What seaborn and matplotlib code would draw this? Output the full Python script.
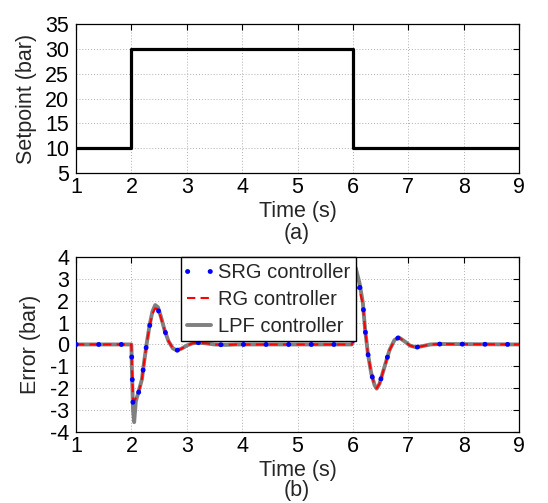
import matplotlib
matplotlib.use("Agg")
import matplotlib.pyplot as plt
import seaborn as sns
import pandas as pd

# ---- data ----
t_step = [1.0, 2.0, 6.0, 9.0]
setpoint = [10, 30, 10, 10]

t_err = [1.0, 2.0, 2.01, 2.03, 2.05, 2.08, 2.13, 2.19, 2.23, 2.28, 2.33, 2.38, 2.43,
         2.48, 2.53, 2.60, 2.67, 2.75, 2.82, 2.90, 3.00, 3.10, 3.20, 3.35, 3.50, 3.70,
         3.90, 5.98, 6.00, 6.03, 6.05, 6.08, 6.12, 6.18, 6.22, 6.27, 6.33, 6.39, 6.43,
         6.48, 6.57, 6.66, 6.75, 6.83, 6.93, 7.03, 7.14, 7.25, 7.40, 7.60, 9.0]
err_lpf = [0, 0, -1.2, -3.0, -3.55, -2.6, -2.15, -1.6, -0.8, 0.1, 0.9, 1.5, 1.8,
           1.7, 1.3, 0.65, 0.15, -0.18, -0.27, -0.2, -0.05, 0.05, 0.08, 0.05, 0.0, -0.02,
           0, 0, 0.1, 2.8, 3.5, 3.2, 2.8, 1.9, 0.7, -0.4, -1.3, -1.85, -2.02,
           -1.8, -1.03, -0.27, 0.2, 0.32, 0.15, -0.05, -0.13, -0.08, 0.0, 0.02, 0]
err_srg = [0, 0, -1.0, -2.85, -2.9, -2.5, -2.2, -1.6, -0.8, 0.1, 0.85, 1.4, 1.65,
           1.6, 1.25, 0.65, 0.15, -0.18, -0.27, -0.2, -0.05, 0.05, 0.08, 0.05, 0.0, -0.02,
           0, 0, 0.1, 2.5, 2.9, 2.9, 2.7, 1.9, 0.7, -0.4, -1.3, -1.85, -2.0,
           -1.8, -1.03, -0.27, 0.2, 0.32, 0.15, -0.05, -0.13, -0.08, 0.0, 0.02, 0]
err_rg = [0, 0, -1.0, -2.5, -2.6, -2.45, -2.2, -1.6, -0.8, 0.1, 0.85, 1.4, 1.65,
          1.6, 1.25, 0.65, 0.15, -0.18, -0.27, -0.2, -0.05, 0.05, 0.08, 0.05, 0.0, -0.02,
          0, 0, 0.1, 2.3, 2.6, 2.6, 2.5, 1.85, 0.7, -0.4, -1.3, -1.85, -2.0,
          -1.8, -1.03, -0.27, 0.2, 0.32, 0.15, -0.05, -0.13, -0.08, 0.0, 0.02, 0]

x_ticks = [1, 2, 3, 4, 5, 6, 7, 8, 9]
y_ticks_a = [5, 10, 15, 20, 25, 30, 35]
y_ticks_b = [-4, -3, -2, -1, 0, 1, 2, 3, 4]

# ---- style ----
sns.set_style("white")
plt.rcParams['font.family'] = ['Liberation Sans', 'DejaVu Sans']
FS = 15.5

fig = plt.figure(figsize=(5.48, 5.03), dpi=100)
ax1 = fig.add_axes([0.1387, 0.656, 0.8084, 0.296])
ax2 = fig.add_axes([0.1387, 0.1412, 0.8084, 0.348])

df_sp = pd.DataFrame({"t": t_step, "sp": setpoint})
sns.lineplot(data=df_sp, x="t", y="sp", ax=ax1, color="black", lw=2.3,
             drawstyle="steps-post", sort=False)

df_err = pd.DataFrame({"t": t_err, "lpf": err_lpf, "srg": err_srg, "rg": err_rg})
sns.lineplot(data=df_err, x="t", y="srg", ax=ax2, color="#0000ff", lw=3.5,
             linestyle=(0, (0.05, 4.6)), dash_capstyle="round", zorder=4,
             label="SRG controller", sort=False)
sns.lineplot(data=df_err, x="t", y="rg", ax=ax2, color="#ff0000", lw=1.5,
             linestyle=(0, (4, 2.5)), zorder=3, label="RG controller", sort=False)
sns.lineplot(data=df_err, x="t", y="lpf", ax=ax2, color="#808080", lw=2.8,
             zorder=2, label="LPF controller", sort=False)

for ax, yt in ((ax1, y_ticks_a), (ax2, y_ticks_b)):
    ax.set_xlim(1, 9)
    ax.set_ylim(yt[0], yt[-1])
    ax.set_xticks(x_ticks)
    ax.set_yticks(yt)
    ax.set_xticklabels([str(v) for v in x_ticks])
    ax.set_yticklabels([str(v) for v in yt])
    ax.grid(True, color="#b0b0b0", linestyle=(0, (1, 2)), lw=0.7)
    ax.tick_params(direction="in", top=True, right=True, length=4, width=0.8,
                   labelsize=FS, colors="black")
    ax.tick_params(axis="y", pad=5)
    ax.tick_params(axis="x", pad=3)
    for s in ax.spines.values():
        s.set_visible(True)
        s.set_color("black")
        s.set_linewidth(0.9)
    ax.set_xlabel("Time (s)", fontsize=FS, labelpad=2)

ax1.set_ylabel("Setpoint (bar)", fontsize=FS, labelpad=6)
ax2.set_ylabel("Error (bar)", fontsize=FS, labelpad=6)

leg = ax2.legend(loc="upper left", bbox_to_anchor=(0.237, 1.0), fontsize=14.5,
                 frameon=True, fancybox=False, edgecolor="black", framealpha=1,
                 handlelength=1.2, handletextpad=0.35, borderpad=0.28,
                 labelspacing=0.4, borderaxespad=0)
leg.get_frame().set_linewidth(1.0)

fig.text(0.542, 0.535, "(a)", ha="center", va="center", fontsize=FS)
fig.text(0.542, 0.024, "(b)", ha="center", va="center", fontsize=FS)

fig.savefig("out.png", dpi=100, facecolor="white")
